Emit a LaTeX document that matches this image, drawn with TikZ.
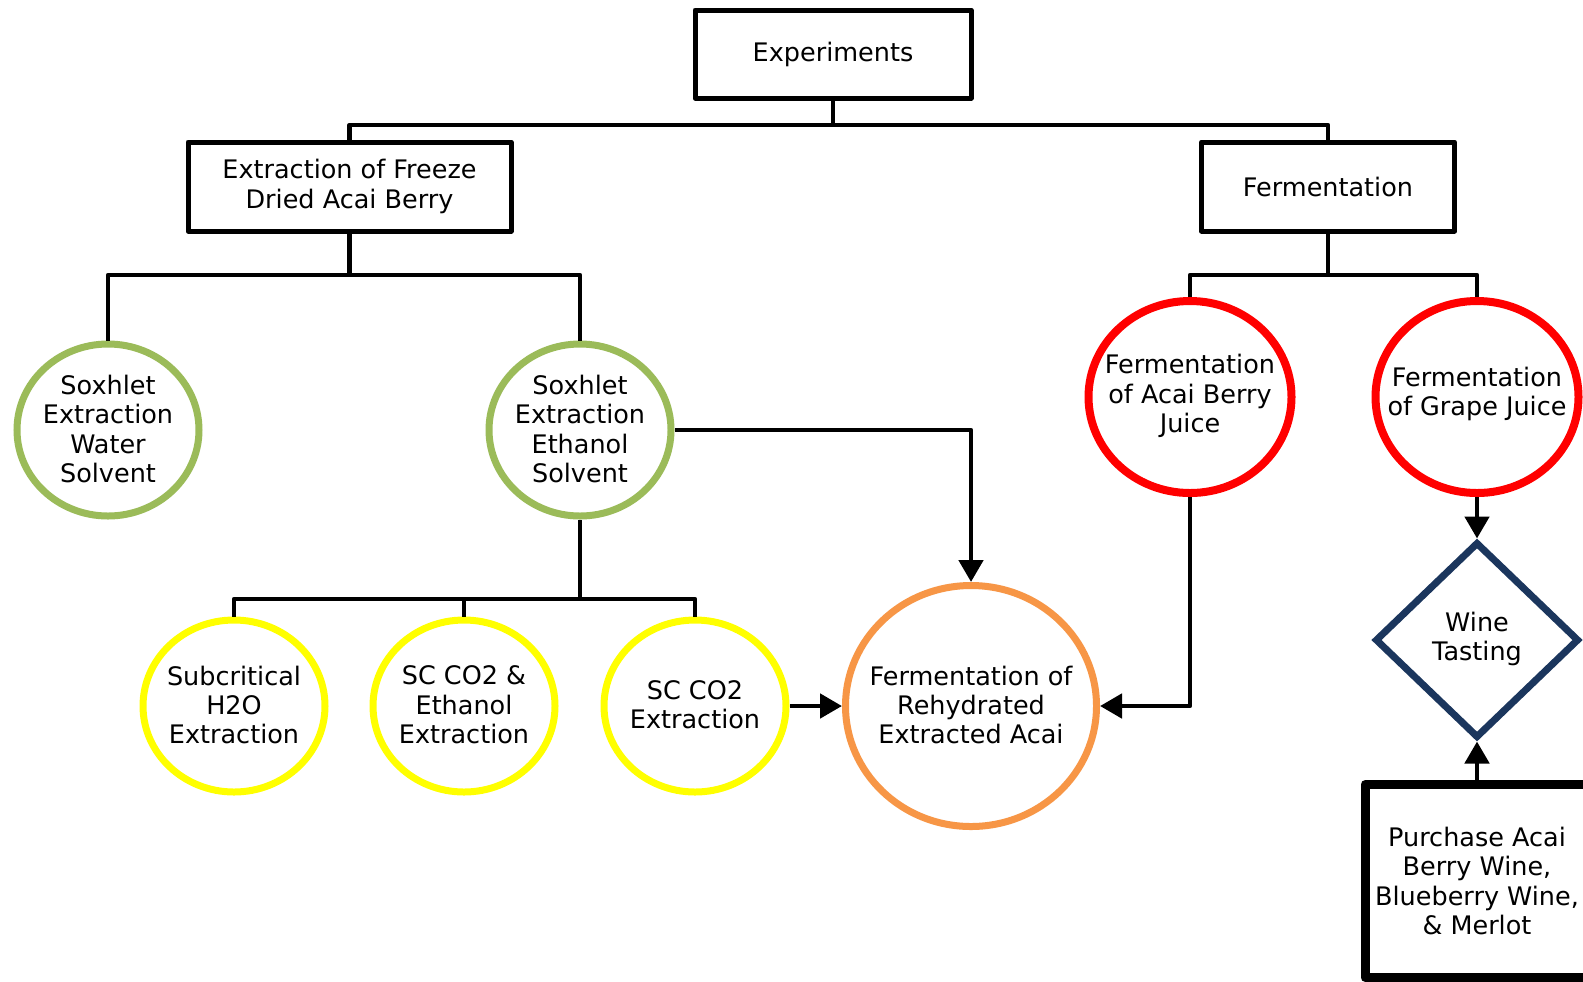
\documentclass[tikz,border=0pt]{standalone}
\usepackage{fontspec}
\setmainfont{DejaVu Sans}
\usetikzlibrary{shapes.geometric,arrows.meta}
\definecolor{cgreen}{HTML}{9BBB59}
\definecolor{cyellow}{HTML}{FFFF00}
\definecolor{corange}{HTML}{F79646}
\definecolor{cred}{HTML}{FF0000}
\definecolor{cnavy}{HTML}{1B365D}
\begin{document}
\begin{tikzpicture}[x=0.5pt,y=-0.5pt,
  every node/.style={font=\fontsize{12.75pt}{14.65pt}\selectfont, align=center, inner sep=0pt},
  rectbox/.style={draw, rectangle, line width=2.5pt, line join=round},
  oval/.style={draw, ellipse, line width=3.5pt, minimum width=91pt, minimum height=86pt},
  bigoval/.style={draw, ellipse, line width=3.5pt, minimum width=125.5pt, minimum height=120.5pt},
  redoval/.style={draw=cred, ellipse, line width=4pt, minimum width=101.5pt, minimum height=96pt},
  conn/.style={line width=2.4pt, line join=round},
  arr/.style={conn, -{Triangle[length=11pt,width=12pt]}}
]
\useasboundingbox (0,0) rectangle (1583,981);
\clip (0,0) rectangle (1583,981);
\fill[white] (0,0) rectangle (1583,981);

% boxes
\node[rectbox, minimum width=138pt, minimum height=44pt] (exp) at (833,54) {Experiments};
\node[rectbox, minimum width=161.5pt, minimum height=44.5pt] (ext) at (349.5,186.5) {Extraction of Freeze\\Dried Acai Berry};
\node[rectbox, minimum width=126.5pt, minimum height=44.5pt] (ferm) at (1328,186.5) {Fermentation};
\node[draw, rectangle, line width=4.5pt, line join=round, minimum width=112pt, minimum height=96.5pt] (buy) at (1477,881) {};
\node (buyt) at (1477,881) {Purchase Acai\\Berry Wine,\\Blueberry Wine,\\\& Merlot};

% green ovals
\node[oval, draw=cgreen] (sw) at (108,430) {};
\node (swt) at (108,429) {Soxhlet\\Extraction\\Water\\Solvent};
\node[oval, draw=cgreen] (se) at (580,430) {};
\node (set) at (580,429) {Soxhlet\\Extraction\\Ethanol\\Solvent};

% yellow ovals
\node[oval, draw=cyellow] (ya) at (234,706) {};
\node (yat) at (234,705) {Subcritical\\H2O\\Extraction};
\node[oval, draw=cyellow] (yb) at (464,706) {};
\node (ybt) at (464,705) {SC CO2 \&\\Ethanol\\Extraction};
\node[oval, draw=cyellow] (yc) at (695,706) {};
\node (yct) at (695,705) {SC CO2\\Extraction};

% orange
\node[bigoval, draw=corange] (fo) at (971,706) {};
\node (fot) at (971,705) {Fermentation of\\Rehydrated\\Extracted Acai};

% red
\node[redoval] (ra) at (1190,397) {};
\node (rat) at (1190,396) {Fermentation\\of Acai Berry\\Juice};
\node[redoval] (rb) at (1477,397) {};
\node (rbt) at (1477,394) {Fermentation\\of Grape Juice};

% diamond
\node[draw=cnavy, diamond, line width=3.5pt, minimum width=102pt, minimum height=98pt] (dia) at (1477,640) {};
\node (diat) at (1477,639) {Wine\\Tasting};

% bus coordinates
\coordinate (b1) at (0,125);
\coordinate (b2) at (0,275);
\coordinate (b3) at (0,599);

% connectors
\draw[conn] (exp.south) -- (exp.south |- b1);
\draw[conn] (ext.north) -- (ext.north |- b1) -- (ferm.north |- b1) -- (ferm.north);
\draw[conn] (ext.south) -- (ext.south |- b2);
\draw[conn] (sw.north) -- (sw.north |- b2) -- (se.north |- b2) -- (se.north);
\draw[conn] (ferm.south) -- (ferm.south |- b2);
\draw[conn] (ra.north) -- (ra.north |- b2) -- (rb.north |- b2) -- (rb.north);
\draw[conn] (se.south) -- (se.south |- b3);
\draw[conn] (ya.north) -- (ya.north |- b3) -- (yc.north |- b3) -- (yc.north);
\draw[conn] (yb.north) -- (yb.north |- b3);

% arrows
\draw[arr] (se.east) -- (fo.north |- se.east) -- (fo.north);
\draw[arr] (yc.east) -- (fo.west);
\draw[arr] (ra.south) -- (ra.south |- fo.east) -- (fo.east);
\draw[arr] (rb.south) -- (dia.north);
\draw[arr] (buy.north) -- (dia.south);
\end{tikzpicture}
\end{document}
